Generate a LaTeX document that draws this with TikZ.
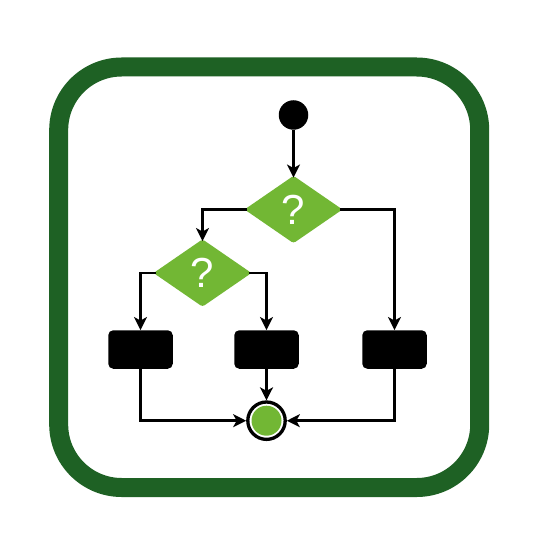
\documentclass[tikz,border=0pt]{standalone}
\usepackage{fontspec}
\setmainfont{Liberation Sans}
\usetikzlibrary{arrows.meta,shapes.geometric}
\definecolor{framegreen}{HTML}{1E6124}
\definecolor{lightgreen}{HTML}{72B734}
\tikzset{
  conn/.style={line width=2.8pt, draw=black, -{Stealth[length=13pt,width=13pt,inset=3.5pt]}},
  fromtip/.style={shorten <=-3pt},
  totip/.style={shorten >=-2pt},
  decision/.style={diamond, fill=lightgreen, draw=none, minimum width=98pt, minimum height=67.5pt, inner sep=0pt, rounded corners=2.5pt, text=white, font=\fontsize{42}{42}\selectfont},
  actbox/.style={rectangle, fill=black, minimum width=64.5pt, minimum height=38.5pt, inner sep=0pt, rounded corners=5pt},
}
\begin{document}
\begin{tikzpicture}[x=1pt,y=-1pt]
\useasboundingbox[fill=white] (0,0) rectangle (534,534);
\draw[framegreen, line width=19pt, rounded corners=63pt] (58.7,67) rectangle (479.7,487.5);
\node[circle, fill=black, minimum size=29.5pt, inner sep=0pt] (start) at (293.5,115) {};
\node[decision] (d1) at (293.5,209.5) {?};
\node[decision] (d2) at (202.5,273) {?};
\node[actbox] (b1) at (140.5,349.5) {};
\node[actbox] (b2) at (266.5,349.5) {};
\node[actbox] (b3) at (394.5,349.5) {};
\node[circle, draw=black, line width=3.3pt, fill=white, minimum size=37.4pt, inner sep=0pt, outer sep=1.65pt] (end) at (266.5,420.7) {};
\fill[lightgreen] (end.center) circle (15pt);
\draw[conn, totip] (start) -- (d1.north);
\draw[conn, fromtip, totip] (d1.west) -| (d2.north);
\draw[conn, fromtip] (d1.east) -| (b3.north);
\draw[conn, fromtip] (d2.west) -| (b1.north);
\draw[conn, fromtip] (d2.east) -| (b2.north);
\draw[conn] (b1.south) |- (end.west);
\draw[conn] (b2.south) -- (end.north);
\draw[conn] (b3.south) |- (end.east);
\end{tikzpicture}
\end{document}
